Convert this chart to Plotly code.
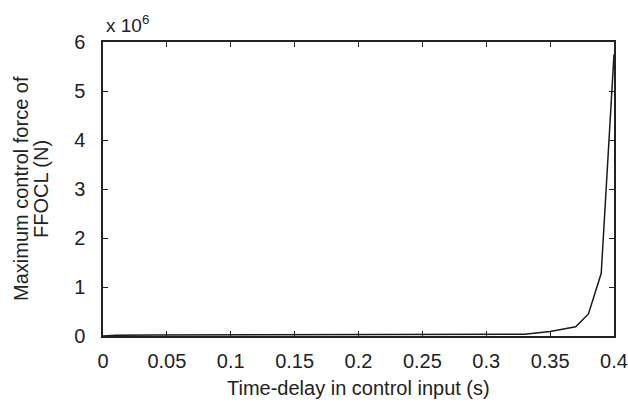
import plotly.graph_objects as go

delay_s = [0.0, 0.01, 0.04, 0.1, 0.2, 0.3, 0.33, 0.35, 0.37, 0.38, 0.39, 0.40]
max_force_1e6 = [0.0, 0.015, 0.02, 0.02, 0.02, 0.02, 0.035, 0.09, 0.19, 0.45, 1.28, 5.75]

x_ticks = [0, 0.05, 0.1, 0.15, 0.2, 0.25, 0.3, 0.35, 0.4]
x_tick_text = ["0", "0.05", "0.1", "0.15", "0.2", "0.25", "0.3", "0.35", "0.4"]
y_ticks = [0, 1, 2, 3, 4, 5, 6]
y_title_lines = ["Maximum control force of", "FFOCL (N)"]
x_title = "Time-delay in control input (s)"

font = "Liberation Sans, Arial, sans-serif"
ink = "#222"

fig = go.Figure()
fig.add_trace(go.Scatter(x=delay_s, y=max_force_1e6, mode="lines",
                         line=dict(color="#1a1a1a", width=1.5), showlegend=False))

axis_common = dict(showgrid=False, zeroline=False, showline=True, linecolor=ink,
                   linewidth=1.5, mirror="ticks", ticks="inside", ticklen=5,
                   tickcolor=ink, tickwidth=1, automargin=False,
                   tickfont=dict(family=font, size=20, color=ink))

fig.update_layout(
    width=628, height=403,
    margin=dict(l=103, r=14, t=42, b=67),
    plot_bgcolor="white", paper_bgcolor="white",
    xaxis=dict(range=[0, 0.4], tickvals=x_ticks, ticktext=x_tick_text,
               ticklabelstandoff=6, **axis_common),
    yaxis=dict(range=[0, 6], tickvals=y_ticks, ticklabelstandoff=12, **axis_common),
    annotations=[
        dict(text="x 10<sup>6</sup>", xref="paper", yref="paper",
             x=0, y=1, xanchor="left", yanchor="bottom", xshift=1, yshift=4,
             showarrow=False, font=dict(family=font, size=19, color=ink)),
        dict(text=x_title, xref="paper", yref="paper", x=0.5, y=0,
             xanchor="center", yanchor="middle", yshift=-52, showarrow=False,
             font=dict(family=font, size=20, color=ink)),
        dict(text=y_title_lines[0], xref="paper", yref="paper", x=0, y=0.5,
             xanchor="center", yanchor="middle", xshift=-82, yshift=0,
             textangle=-90, showarrow=False, font=dict(family=font, size=20, color=ink)),
        dict(text=y_title_lines[1], xref="paper", yref="paper", x=0, y=0.5,
             xanchor="center", yanchor="middle", xshift=-62, yshift=0,
             textangle=-90, showarrow=False, font=dict(family=font, size=20, color=ink)),
    ],
)

fig.write_html("out.html", config={"displayModeBar": False},
               post_script="document.body.style.margin='0';document.body.style.overflow='hidden';")
